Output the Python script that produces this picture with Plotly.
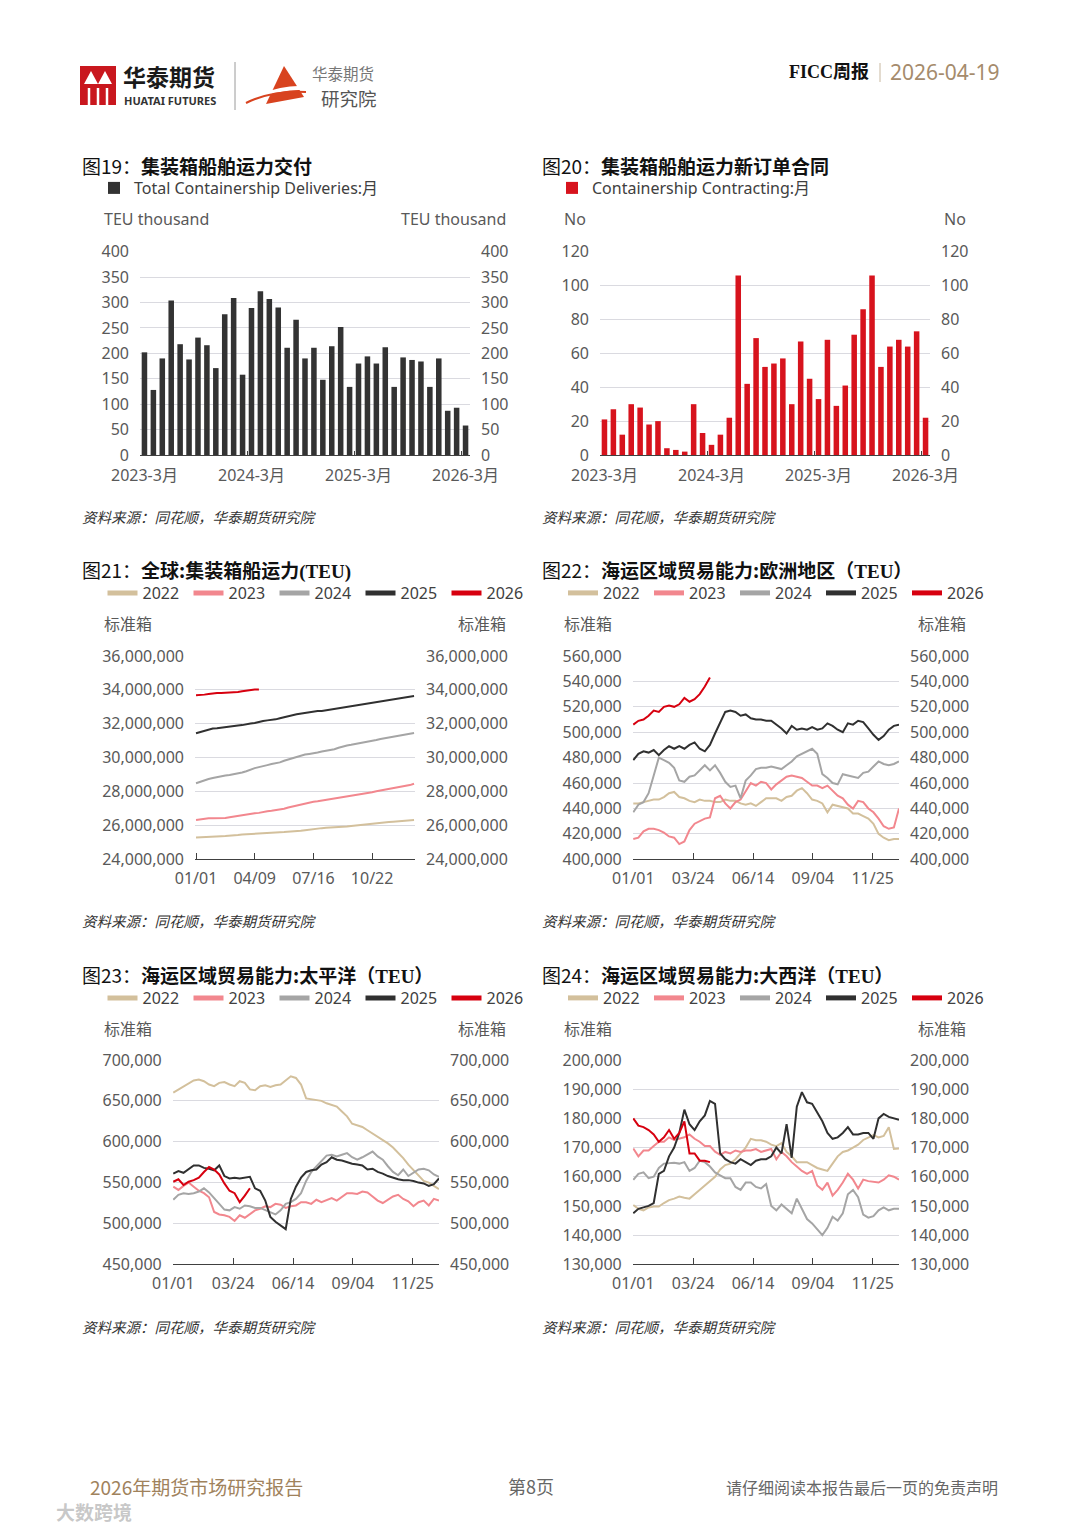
import plotly.graph_objects as go

W, H = 1080, 1527


def px(x):
    return x / W


def py(y):
    return 1 - y / H


LAT = "Noto Sans, Noto Sans CJK SC, sans-serif"
CJK = "Noto Sans CJK SC, Noto Sans, sans-serif"
SERIF = "Liberation Serif, Noto Sans CJK SC, serif"
TICK_COLOR = "#595959"
GRID = "#DADAE0"
AXIS = "#404040"

# ---------------- data ----------------
months = ["2023-3月", "2023-4月", "2023-5月", "2023-6月", "2023-7月", "2023-8月", "2023-9月",
          "2023-10月", "2023-11月", "2023-12月", "2024-1月", "2024-2月", "2024-3月", "2024-4月",
          "2024-5月", "2024-6月", "2024-7月", "2024-8月", "2024-9月", "2024-10月", "2024-11月",
          "2024-12月", "2025-1月", "2025-2月", "2025-3月", "2025-4月", "2025-5月", "2025-6月",
          "2025-7月", "2025-8月", "2025-9月", "2025-10月", "2025-11月", "2025-12月", "2026-1月",
          "2026-2月", "2026-3月"]
month_ticks = ["2023-3月", "2024-3月", "2025-3月", "2026-3月"]
deliveries = [202, 128, 190, 304, 218, 188, 231, 216, 171, 277, 309, 158, 289, 322, 307, 290, 211,
              266, 190, 211, 148, 214, 252, 134, 180, 194, 180, 212, 134, 192, 187, 184, 134, 190,
              87, 93, 58]
contracting = [21, 27, 12, 30, 28, 18, 20, 4, 3, 2, 30, 13, 6, 12, 22, 106, 42, 69, 52, 54, 57, 30,
               67, 45, 33, 68, 29, 41, 71, 86, 106, 52, 64, 68, 64, 73, 22]

years = ["2022", "2023", "2024", "2025", "2026"]
year_colors = ["#D3C09C", "#F2878E", "#A5A5A5", "#303030", "#D7000F"]

days = [0, 7, 14, 21, 28, 35, 42, 49, 56, 63, 70, 77, 84, 91, 98, 105, 112, 119, 126, 133, 140,
        147, 154, 161, 168, 175, 182, 189, 196, 203, 210, 217, 224, 231, 238, 245, 252, 259, 266,
        273, 280, 287, 294, 301, 308, 315, 322, 329, 336, 343, 350, 357, 364]

# 图21 全球集装箱船运力 (百万TEU)
glob_2022 = [25.28, 25.30, 25.32, 25.33, 25.34, 25.35, 25.36, 25.37, 25.38, 25.40, 25.43, 25.46,
             25.48, 25.49, 25.50, 25.52, 25.53, 25.55, 25.57, 25.58, 25.60, 25.61, 25.62, 25.63,
             25.64, 25.68, 25.72, 25.76, 25.79, 25.82, 25.84, 25.86, 25.87, 25.88, 25.89, 25.91,
             25.94, 25.97, 26.00, 26.02, 26.03, 26.05, 26.08, 26.12, 26.15, 26.18, 26.20, 26.22,
             26.24, 26.26, 26.28, 26.30, 26.32]
glob_2023 = [26.32, 26.36, 26.40, 26.42, 26.42, 26.42, 26.42, 26.44, 26.48, 26.52, 26.58, 26.64,
             26.66, 26.70, 26.72, 26.74, 26.80, 26.84, 26.86, 26.90, 26.92, 26.98, 27.06, 27.12,
             27.18, 27.26, 27.30, 27.34, 27.40, 27.42, 27.46, 27.50, 27.52, 27.56, 27.60, 27.64,
             27.68, 27.72, 27.76, 27.80, 27.86, 27.90, 27.96, 28.02, 28.06, 28.10, 28.14, 28.18,
             28.22, 28.26, 28.32, 28.38, 28.46]
glob_2024 = [28.49, 28.58, 28.66, 28.74, 28.80, 28.86, 28.90, 28.95, 28.98, 29.02, 29.06, 29.12,
             29.20, 29.30, 29.38, 29.44, 29.52, 29.56, 29.62, 29.66, 29.72, 29.82, 29.90, 29.98,
             30.06, 30.14, 30.18, 30.22, 30.24, 30.30, 30.36, 30.40, 30.45, 30.50, 30.58, 30.66,
             30.72, 30.76, 30.80, 30.84, 30.88, 30.92, 30.96, 31.04, 31.10, 31.14, 31.18, 31.22,
             31.28, 31.34, 31.38, 31.42, 31.45]
glob_2025 = [31.44, 31.52, 31.60, 31.68, 31.72, 31.74, 31.78, 31.82, 31.86, 31.89, 31.90, 31.92,
             31.98, 32.02, 32.05, 32.12, 32.16, 32.20, 32.22, 32.26, 32.33, 32.40, 32.46, 32.50,
             32.56, 32.60, 32.66, 32.70, 32.74, 32.76, 32.76, 32.80, 32.86, 32.90, 32.94, 32.97,
             33.02, 33.06, 33.10, 33.14, 33.18, 33.22, 33.26, 33.28, 33.33, 33.38, 33.41, 33.44,
             33.48, 33.52, 33.54, 33.58, 33.64]
glob_2026 = [33.68, 33.69, 33.72, 33.76, 33.80, 33.82, 33.82, 33.83, 33.84, 33.86, 33.88, 33.92,
             33.96, 33.98, 34.02, 34.03]

# 图22 欧洲地区 (千TEU)
eu_2022 = [444, 444, 445, 446, 447, 447, 449, 452, 453, 449, 448, 446, 445, 447, 446, 446, 445, 445,
           447, 446, 446, 444, 443, 444, 442, 445, 448, 448, 448, 446, 449, 450, 454, 456, 452, 447,
           446, 444, 437, 443, 442, 441, 440, 436, 436, 434, 432, 428, 420, 417, 415, 416, 416]
eu_2023 = [416, 417, 422, 424, 424, 423, 421, 418, 417, 412, 414, 423, 428, 430, 432, 433, 448, 450,
           444, 440, 445, 447, 453, 460, 458, 461, 460, 455, 459, 462, 465, 466, 465, 464, 461, 458,
           458, 456, 458, 454, 450, 448, 443, 440, 446, 445, 440, 437, 432, 426, 424, 425, 440]
eu_2024 = [437, 443, 445, 452, 466, 480, 478, 476, 472, 462, 461, 465, 466, 470, 474, 470, 474, 468,
           461, 457, 458, 448, 462, 466, 471, 472, 472, 473, 472, 471, 474, 477, 481, 483, 485, 487,
           483, 467, 464, 460, 459, 467, 466, 465, 464, 468, 469, 473, 477, 475, 474, 475, 477]
eu_2025 = [478, 483, 485, 484, 486, 482, 486, 489, 487, 489, 487, 490, 492, 487, 485, 490, 499, 507,
           516, 517, 516, 513, 514, 511, 510, 510, 509, 509, 506, 503, 499, 505, 502, 503, 502, 504,
           502, 503, 507, 505, 502, 500, 507, 506, 509, 508, 503, 498, 494, 497, 502, 505, 506]
eu_2026 = [506, 509, 510, 513, 517, 516, 520, 521, 520, 522, 527, 524, 526, 530, 536, 543]

# 图23 太平洋 (千TEU)
pac_2022 = [660, 664, 668, 671, 675, 676, 674, 670, 668, 672, 673, 670, 668, 674, 672, 664, 663, 668,
            669, 667, 669, 670, 675, 680, 678, 670, 653, 652, 651, 650, 647, 645, 643, 637, 631, 622,
            620, 618, 614, 610, 606, 603, 598, 593, 587, 580, 572, 565, 558, 552, 550, 546, 542]
pac_2023 = [545, 541, 546, 550, 545, 540, 537, 532, 514, 511, 510, 508, 503, 510, 507, 512, 516, 518,
            521, 520, 524, 523, 519, 521, 522, 526, 526, 524, 529, 526, 529, 531, 528, 533, 537, 537,
            536, 539, 538, 533, 528, 525, 529, 533, 535, 530, 527, 521, 526, 528, 522, 530, 528]
pac_2024 = [529, 535, 537, 536, 537, 539, 543, 538, 531, 524, 517, 516, 520, 518, 522, 521, 519, 519,
            516, 514, 511, 516, 524, 526, 530, 537, 552, 563, 570, 576, 583, 584, 582, 584, 586, 581,
            578, 581, 585, 588, 582, 578, 570, 563, 559, 566, 558, 562, 566, 567, 565, 560, 557]
pac_2025 = [561, 564, 562, 567, 571, 571, 568, 567, 565, 571, 558, 555, 556, 555, 556, 557, 543, 540,
            528, 508, 502, 498, 493, 530, 545, 556, 563, 565, 566, 572, 575, 581, 578, 577, 575, 573,
            572, 571, 566, 567, 563, 561, 558, 556, 554, 553, 553, 552, 550, 549, 546, 548, 555]
pac_2026 = [551, 554, 547, 551, 553, 556, 563, 569, 566, 560, 549, 540, 537, 526, 534, 543]

# 图24 大西洋 (千TEU)
atl_2022 = [150.3, 149, 148.5, 149.5, 149.8, 149.8, 151, 152, 152.5, 153.2, 152.8, 152.5, 154, 155.5,
            157, 158.3, 160, 162.5, 164, 164.5, 166, 168, 170, 173, 172.5, 172.5, 172, 171, 170.5,
            171.5, 168.5, 167, 165, 165, 165, 164, 163, 162.5, 162, 164.5, 167, 168.5, 169, 170,
            171, 172.6, 173.5, 174.3, 173.5, 174, 177, 169.5, 169.7]
atl_2023 = [169.7, 167, 169, 169, 170.5, 172, 172, 173.5, 172.6, 173, 173.5, 174.5, 173, 172, 170.5,
            170.5, 168.6, 167.5, 168.5, 168, 169, 168.5, 169, 169, 169.5, 168.5, 169, 169.5, 166,
            168.5, 167, 165, 163.5, 162, 161, 162, 157, 155.5, 158, 153.5, 155.5, 158, 161, 159,
            156, 159, 158.5, 158.3, 158, 159, 160.5, 160, 159]
atl_2024 = [158.9, 161, 161.5, 159.5, 160, 163, 164.5, 164.6, 164.8, 164.5, 165, 162, 163, 165.5, 165,
            163.5, 161.5, 160.5, 159.5, 159.5, 156.5, 155.5, 158, 158, 156.5, 156, 157.5, 150, 148.5,
            150.5, 149, 147.5, 152.5, 149, 145.5, 144, 142, 140, 142.5, 146.3, 145, 147.5, 154,
            155.5, 153, 147, 146, 146.5, 148.5, 149.5, 148.5, 149, 149]
atl_2025 = [147.5, 149, 149.5, 150, 151, 161, 162, 167, 170, 175, 183, 178, 176, 179, 181, 186, 185,
            168, 166, 165, 164.5, 166, 165, 164, 165.5, 166, 166, 167, 170, 168, 178, 166.5, 184, 189,
            185.5, 185, 182, 179, 175, 173, 173.5, 175, 177, 174.5, 174.5, 175, 175, 173, 180,
            181.5, 180.5, 180, 179.5]
atl_2026 = [180, 177.5, 177, 176, 174.5, 172, 173.5, 176, 173, 175, 179, 168, 168, 165.5, 165.5, 165]

glob_ticks = [0, 98, 196, 294]
glob_ticktext = ["01/01", "04/09", "07/16", "10/22"]
trade_ticks = [0, 82, 164, 246, 328, 364]
trade_ticktext = ["01/01", "03/24", "06/14", "09/04", "11/25", ""]

# ---------------- figure ----------------
fig = go.Figure()

fig.add_trace(go.Bar(x=months, y=deliveries, marker=dict(color="#333333", line_width=0),
                     name="Total Containership Deliveries:月", xaxis="x", yaxis="y",
                     legend="legend", showlegend=True, hoverinfo="skip"))
fig.add_trace(go.Scatter(x=[None], y=[None], xaxis="x", yaxis="y2", showlegend=False,
                         hoverinfo="skip"))
fig.add_trace(go.Bar(x=months, y=contracting, marker=dict(color="#D7131D", line_width=0),
                     name="Containership Contracting:月", xaxis="x2", yaxis="y3",
                     legend="legend2", showlegend=True, hoverinfo="skip"))
fig.add_trace(go.Scatter(x=[None], y=[None], xaxis="x2", yaxis="y4", showlegend=False,
                         hoverinfo="skip"))

line_charts = [
    ("x3", "y5", "y6", "legend3", [glob_2022, glob_2023, glob_2024, glob_2025, glob_2026], 1e6),
    ("x4", "y7", "y8", "legend4", [eu_2022, eu_2023, eu_2024, eu_2025, eu_2026], 1e3),
    ("x5", "y9", "y10", "legend5", [pac_2022, pac_2023, pac_2024, pac_2025, pac_2026], 1e3),
    ("x6", "y11", "y12", "legend6", [atl_2022, atl_2023, atl_2024, atl_2025, atl_2026], 1e3),
]
for xa, ya, ya2, lg, series, scale in line_charts:
    for name, color, vals in zip(years, year_colors, series):
        fig.add_trace(go.Scatter(x=days[:len(vals)], y=[v * scale for v in vals], mode="lines",
                                 line=dict(color=color, width=2), name=name, showlegend=False,
                                 xaxis=xa, yaxis=ya, hoverinfo="skip"))
    for name, color in zip(years, year_colors):
        fig.add_trace(go.Scatter(x=[None], y=[None], mode="lines", line=dict(color=color, width=5),
                                 name=name, legend=lg, showlegend=True, xaxis=xa, yaxis=ya2))

layout = dict(
    width=W, height=H, autosize=False, template="none",
    margin=dict(l=0, r=0, t=0, b=0, pad=0, autoexpand=False),
    paper_bgcolor="white", plot_bgcolor="white",
    showlegend=True, bargap=0.38,
    font=dict(family=LAT, size=16, color=TICK_COLOR),
)

tickfont = dict(family=LAT, size=16, color=TICK_COLOR)


def add_y(left_key, right_key, left_id, xid, top, bottom, rng, dtick):
    common = dict(range=rng, dtick=dtick, tick0=rng[0], tickformat=",d", tickfont=tickfont,
                  showline=False, zeroline=False, ticks="", anchor=xid, ticklabelstandoff=10,
                  fixedrange=True, automargin=False)
    layout[left_key] = dict(common, side="left", showgrid=True, gridcolor=GRID, gridwidth=1,
                            domain=[py(bottom), py(top)])
    layout[right_key] = dict(common, side="right", overlaying=left_id, showgrid=False)


def add_cat_x(key, yid, left, right):
    layout[key] = dict(type="category", domain=[px(left), px(right)], range=[-0.5, len(months) - 0.5],
                       tickvals=month_ticks, ticktext=month_ticks, tickson="boundaries",
                       ticks="inside", ticklen=4, tickcolor=AXIS, showline=True, linecolor=AXIS,
                       linewidth=1, showgrid=False, anchor=yid, tickfont=tickfont, tickangle=0,
                       ticklabelstandoff=6, fixedrange=True, automargin=False)


def add_lin_x(key, yid, left, right, rng, tv, tt):
    layout[key] = dict(type="linear", domain=[px(left), px(right)], range=rng, tickvals=tv,
                       ticktext=tt, ticks="inside", ticklen=6, tickcolor=AXIS, showline=True,
                       linecolor=AXIS, linewidth=1, showgrid=False, zeroline=False, anchor=yid,
                       tickfont=tickfont, tickangle=0, ticklabelstandoff=4, fixedrange=True,
                       automargin=False)


add_cat_x("xaxis", "y", 140, 470)
add_y("yaxis", "yaxis2", "y", "x", 251.7, 455, [0, 400], 50)
add_cat_x("xaxis2", "y3", 600, 930)
add_y("yaxis3", "yaxis4", "y3", "x2", 251.7, 455, [0, 120], 20)

add_lin_x("xaxis3", "y5", 195, 415, [-1.7, 365.6], glob_ticks, glob_ticktext)
add_y("yaxis5", "yaxis6", "y5", "x3", 656, 859.3, [24000000, 36000000], 2000000)
add_lin_x("xaxis4", "y7", 632.7, 899, [-0.8, 364], trade_ticks, trade_ticktext)
add_y("yaxis7", "yaxis8", "y7", "x4", 656, 859.3, [400000, 560000], 20000)
add_lin_x("xaxis5", "y9", 172.7, 439, [-0.8, 364], trade_ticks, trade_ticktext)
add_y("yaxis9", "yaxis10", "y9", "x5", 1060, 1264.3, [450000, 700000], 50000)
add_lin_x("xaxis6", "y11", 632.7, 899, [-0.8, 364], trade_ticks, trade_ticktext)
add_y("yaxis11", "yaxis12", "y11", "x6", 1060, 1264.3, [130000, 200000], 10000)

legfont = dict(family=LAT, size=16, color="#404040")


def leg(x, y, entry=None):
    d = dict(x=px(x), y=py(y), xanchor="left", yanchor="middle", orientation="h", font=legfont,
             bgcolor="rgba(0,0,0,0)", borderwidth=0, itemclick=False, itemdoubleclick=False)
    if entry:
        d.update(entrywidth=entry, entrywidthmode="pixels")
    return d


layout["legend"] = leg(94, 188)
layout["legend2"] = leg(552, 188)
layout["legend3"] = leg(102.5, 593, 41)
layout["legend4"] = leg(563, 593, 41)
layout["legend5"] = leg(102.5, 998, 41)
layout["legend6"] = leg(563, 998, 41)

ann = []


def text(x, y, t, size=16, color=TICK_COLOR, anchor="left", family=LAT):
    ann.append(dict(x=px(x), y=py(y), xref="paper", yref="paper", text=t, showarrow=False,
                    xanchor=anchor, yanchor="middle", font=dict(size=size, color=color, family=family)))


serif_teu = "<span style='font-family:Liberation Serif'>TEU</span>"
titles = [
    (80, 165, "图19：<b>集装箱船舶运力交付</b>"),
    (540, 165, "图20：<b>集装箱船舶运力新订单合同</b>"),
    (80, 569, "图21：<b>全球:集装箱船运力<span style='font-family:Liberation Serif'>(TEU)</span></b>"),
    (540, 569, "图22：<b>海运区域贸易能力:欧洲地区（" + serif_teu + "）</b>"),
    (80, 974, "图23：<b>海运区域贸易能力:太平洋（" + serif_teu + "）</b>"),
    (540, 974, "图24：<b>海运区域贸易能力:大西洋（" + serif_teu + "）</b>"),
]
for x, y, t in titles:
    text(x, y, t, size=19, color="#111111", family=CJK)

unit_titles = [(102, 508, 219, "TEU thousand"), (562, 968, 219, "No"),
               (102, 508, 624, "标准箱"), (562, 968, 624, "标准箱"),
               (102, 508, 1029, "标准箱"), (562, 968, 1029, "标准箱")]
for xl, xr, y, t in unit_titles:
    text(xl, y, t)
    text(xr, y, t, anchor="right")

for x, y in [(80, 516), (540, 516), (80, 921), (540, 921), (80, 1326), (540, 1326)]:
    text(x, y, "<i>资料来源：同花顺，华泰期货研究院</i>", size=14.5, color="#333333", family=CJK)

# header
text(121, 76, "<b>华泰期货</b>", size=23, color="#1A1A1A", family=CJK)
text(122, 101, "<b>HUATAI FUTURES</b>", size=11, color="#333333", family=LAT)
text(310, 73, "华泰期货", size=15.5, color="#777777", family=CJK)
text(319, 97.5, "研究院", size=18.5, color="#555555", family=CJK)
text(871, 72, "<b>FICC周报</b>", size=18, color="#111111", anchor="right", family=SERIF)
text(888, 72, "2026-04-19", size=21, color="#A58B6C", family=LAT)

# footer
text(88, 1486, "2026年期货市场研究报告", size=19, color="#A0825C", family=CJK)
text(531, 1486, "第8页", size=18, color="#666666", anchor="center", family=CJK)
text(1000, 1487, "请仔细阅读本报告最后一页的免责声明", size=16, color="#666666", anchor="right", family=CJK)
text(54, 1511, "<b>大数跨境</b>", size=19, color="rgba(175,175,175,0.7)", family=CJK)

layout["annotations"] = ann

RED = "#C9171E"
shapes = [
    # Huatai icon
    dict(type="rect", x0=px(80), x1=px(116), y0=py(105), y1=py(66), fillcolor=RED, line_width=0),
    dict(type="path", path=f"M {px(84)},{py(84)} L {px(91)},{py(71)} L {px(98)},{py(84)} Z",
         fillcolor="white", line_width=0),
    dict(type="path", path=f"M {px(98)},{py(84)} L {px(105)},{py(71)} L {px(112)},{py(84)} Z",
         fillcolor="white", line_width=0),
    dict(type="line", x0=px(89), x1=px(89), y0=py(88), y1=py(105), line=dict(color="white", width=2.5)),
    dict(type="line", x0=px(98), x1=px(98), y0=py(88), y1=py(105), line=dict(color="white", width=2.5)),
    dict(type="line", x0=px(107), x1=px(107), y0=py(88), y1=py(105), line=dict(color="white", width=2.5)),
    # divider
    dict(type="line", x0=px(235), x1=px(235), y0=py(62), y1=py(110), line=dict(color="#9A9A9A", width=1)),
    # research institute logo
    dict(type="path", path=f"M {px(266)},{py(104)} L {px(284)},{py(66)} L {px(304)},{py(97)} Z",
         fillcolor="#D8431F", line_width=0),
    dict(type="path", path=f"M {px(246)},{py(103)} Q {px(275)},{py(86)} {px(310)},{py(88)}",
         line=dict(color="white", width=4)),
    dict(type="path", path=f"M {px(246)},{py(103)} Q {px(272)},{py(90)} {px(306)},{py(92)}",
         line=dict(color="#D8431F", width=2)),
    # header separator
    dict(type="line", x0=px(880), x1=px(880), y0=py(63), y1=py(82), line=dict(color="#C8B8A0", width=1)),
]
for s in shapes:
    s.update(xref="paper", yref="paper")
layout["shapes"] = shapes

fig.update_layout(layout)
fig.write_html("out.html", config={"displayModeBar": False},
               post_script="document.body.style.margin='0px';")
